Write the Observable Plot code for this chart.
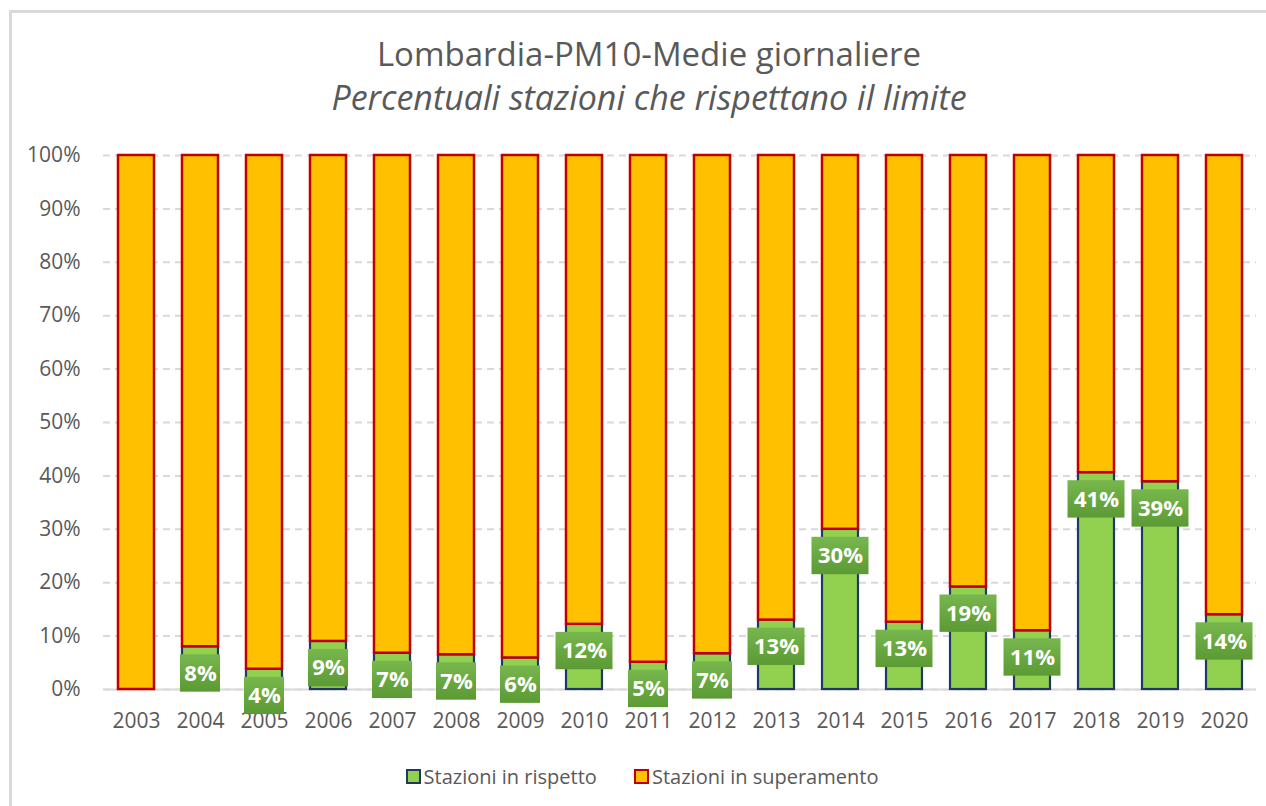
<!DOCTYPE html>
<html>
<head>
<meta charset="utf-8">
<script src="https://cdn.jsdelivr.net/npm/d3@7"></script>
<script src="https://cdn.jsdelivr.net/npm/@observablehq/plot@0.6"></script>
<style>
  html, body { margin: 0; padding: 0; background: #fff; }
  body { position: relative; width: 1266px; height: 806px; overflow: hidden; font-family: "Open Sans", sans-serif; }
  #frame { position: absolute; left: 9px; top: 10px; width: 1400px; height: 900px; border-left: 3px solid #d9d9d9; border-top: 3px solid #d9d9d9; }
  .t { position: absolute; left: 0; width: 1298px; text-align: center; color: #595959; line-height: 1; white-space: nowrap; }
  #title { top: 37px; font-size: 33px; }
  #subtitle { top: 80px; font-size: 34px; font-style: italic; }
  #chart { position: absolute; left: 0; top: 130px; }
  #legend { position: absolute; top: 767px; left: 0; width: 1284px; text-align: center; font-size: 20px; line-height: 1; color: #595959; white-space: nowrap; }
  .li { display: inline-block; margin: 0 16px; }
  .sw { display: inline-block; width: 11px; height: 11px; border: 2px solid; margin-right: 3px; vertical-align: 0px; }
</style>
</head>
<body>
<div id="frame"></div>
<div class="t" id="title">Lombardia-PM10-Medie giornaliere</div>
<div class="t" id="subtitle">Percentuali stazioni che rispettano il limite</div>
<div id="chart"></div>
<div id="legend">
  <span class="li"><span class="sw" style="background:#92D050;border-color:#1F3864"></span>Stazioni in rispetto</span>
  <span class="li"><span class="sw" style="background:#FFC000;border-color:#C00000"></span>Stazioni in superamento</span>
</div>
<script>
const years = ["2003","2004","2005","2006","2007","2008","2009","2010","2011","2012","2013","2014","2015","2016","2017","2018","2019","2020"];
const rispetto = [0, 8.0, 3.8, 9.0, 6.8, 6.5, 5.9, 12.2, 5.1, 6.7, 13.0, 30.0, 12.6, 19.2, 11.0, 40.6, 38.9, 14.0];
const superamento = [100, 92.0, 96.2, 91.0, 93.2, 93.5, 94.1, 87.8, 94.9, 93.3, 87.0, 70.0, 87.4, 80.8, 89.0, 59.4, 61.1, 86.0];
const yTicks = [0, 10, 20, 30, 40, 50, 60, 70, 80, 90, 100];
const seriesNames = ["Stazioni in rispetto", "Stazioni in superamento"];

const rows = years.map((y, i) => ({
  year: y,
  r: rispetto[i],
  s: superamento[i],
  label: Math.round(rispetto[i]) + "%"
}));
const green = rows.filter(d => d.r > 0);
const wide = green.filter(d => d.label.length > 2);
const narrow = green.filter(d => d.label.length <= 2);

// label box offsets expressed in data units (percent)
const boxTop = 1.5, boxBottom = 8.5;

const plot = Plot.plot({
  width: 1266,
  height: 609,
  marginTop: 25,
  marginBottom: 50,
  marginLeft: 103,
  marginRight: 10,
  style: { fontFamily: "Open Sans, sans-serif", color: "#595959", background: "transparent", overflow: "visible" },
  x: { domain: years, padding: 0, label: null },
  y: { domain: [0, 100], label: null },
  marks: [
    Plot.gridY(yTicks, { stroke: "#d9d9d9", strokeOpacity: 1, strokeWidth: 2, strokeDasharray: "7,5" }),
    Plot.axisY(yTicks, { tickSize: 0, tickPadding: 23, tickFormat: d => d + "%", fontSize: 21, label: null }),
    Plot.axisX({ tickSize: 0, tickPadding: 24, fontSize: 21, label: null }),
    Plot.ruleY([0], { stroke: "#d9d9d9", strokeWidth: 2 }),
    Plot.barY(green, { x: "year", y1: 0, y2: "r", fill: "#92D050", stroke: "#1F3864", strokeWidth: 2.2, insetLeft: 14, insetRight: 14 }),
    Plot.barY(rows, { x: "year", y1: "r", y2: d => d.r + d.s, fill: "#FFC000", stroke: "#C00000", strokeWidth: 2.5, insetLeft: 14, insetRight: 14 }),
    Plot.barY(wide, { x: "year", y1: d => d.r - boxBottom, y2: d => d.r - boxTop, fill: "url(#lblgrad)", insetLeft: 3.5, insetRight: 3.5, ariaLabel: "label-box" }),
    Plot.barY(narrow, { x: "year", y1: d => d.r - boxBottom, y2: d => d.r - boxTop, fill: "url(#lblgrad)", insetLeft: 12, insetRight: 12, ariaLabel: "label-box" }),
    Plot.text(green, { x: "year", y: "r", text: "label", dy: 27, fill: "white", fontWeight: "bold", fontSize: 22, lineAnchor: "middle" })
  ]
});

const svg = d3.select(plot);
const defs = svg.insert("defs", ":first-child");
const g = defs.append("linearGradient").attr("id", "lblgrad").attr("x1", 0).attr("y1", 0).attr("x2", 0).attr("y2", 1);
g.append("stop").attr("offset", "0%").attr("stop-color", "#78b64e");
g.append("stop").attr("offset", "100%").attr("stop-color", "#5b9a34");
svg.selectAll("g[aria-label='label-box']").style("filter", "drop-shadow(2px 3px 2.5px rgba(0,0,0,0.35))");

document.getElementById("chart").appendChild(plot);
</script>
</body>
</html>
